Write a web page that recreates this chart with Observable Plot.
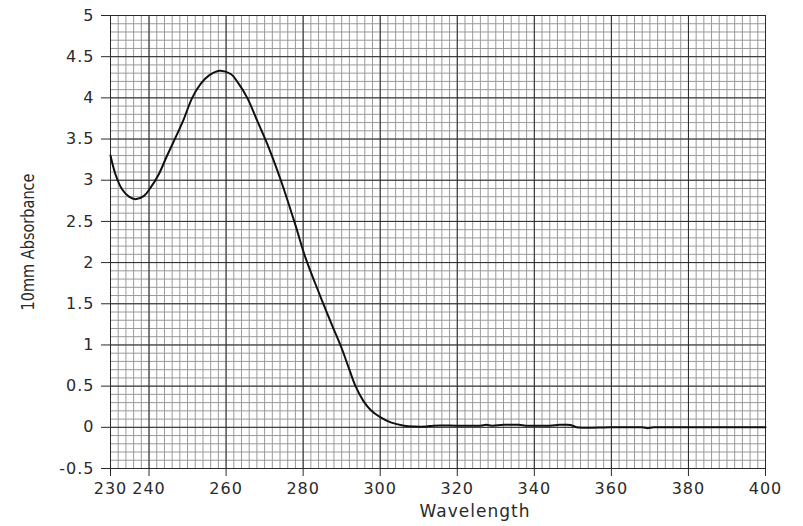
<!DOCTYPE html>
<html>
<head>
<meta charset="utf-8">
<script src="https://cdn.jsdelivr.net/npm/d3@7"></script>
<script src="https://cdn.jsdelivr.net/npm/@observablehq/plot@0.6"></script>
<style>
  html, body { margin: 0; padding: 0; background: #fff; }
  #chart svg text { letter-spacing: 1px; }
  #chart svg text.ylab { letter-spacing: 0; }
</style>
</head>
<body>
<div id="chart"></div>
<script>
// Wavelength (nm) and absorbance
const wavelength = [230, 231.3, 233, 234.8, 236.5, 238.7, 240.4, 242.5, 244.7, 246.9, 249, 251.2, 253.4, 255.5, 258.3, 261.2, 263.3, 265.5, 268.1, 270.6, 274.2, 277.9, 280.6, 283.2, 285.4, 287.6, 290.0, 292.0, 293.6, 295.5, 297.5, 300.1, 302.7, 306.2, 308.8, 312, 313.8, 320, 326, 327.5, 329, 332, 336, 337.8, 340, 344, 346.5, 348.5, 350, 351, 360, 368, 369.4, 371, 380, 390, 400];
const absorbance = [3.30, 3.07, 2.89, 2.80, 2.77, 2.81, 2.91, 3.07, 3.30, 3.52, 3.74, 4.00, 4.17, 4.27, 4.33, 4.29, 4.17, 4.00, 3.72, 3.45, 3.00, 2.47, 2.06, 1.74, 1.48, 1.23, 0.96, 0.70, 0.50, 0.33, 0.21, 0.12, 0.06, 0.02, 0.01, 0.01, 0.02, 0.02, 0.02, 0.03, 0.02, 0.03, 0.03, 0.02, 0.02, 0.02, 0.03, 0.03, 0.02, 0.00, 0.00, 0.00, -0.01, 0.00, 0.00, 0.00, 0.00];

// Axis ticks
const xTicks = [230, 240, 260, 280, 300, 320, 340, 360, 380, 400];
const yTicks = [-0.5, 0, 0.5, 1, 1.5, 2, 2.5, 3, 3.5, 4, 4.5, 5];
const xMinorStep = 2;
const yMinorStep = 0.1;
const xLabel = "Wavelength";
const yLabel = "10mm Absorbance";

const data = wavelength.map((w, i) => ({w, a: absorbance[i]}));
const xMinor = d3.range(230, 400.001, xMinorStep);
const yMinor = d3.range(-5, 50.001, yMinorStep * 10).map(v => Math.round(v) / 10);

const chart = Plot.plot({
  width: 803,
  height: 526,
  marginLeft: 110,
  marginRight: 38,
  marginTop: 15,
  marginBottom: 58,
  style: {fontFamily: "'DejaVu Sans', Verdana, sans-serif", fontSize: "16px", color: "#2a2a2a", background: "#fff"},
  x: {domain: [230, 400]},
  y: {domain: [-0.5, 5]},
  marks: [
    Plot.ruleX(xMinor, {stroke: "#9a9a9a", strokeWidth: 1}),
    Plot.ruleY(yMinor, {stroke: "#9a9a9a", strokeWidth: 1}),
    Plot.ruleX(xTicks, {stroke: "#2b2b2b", strokeWidth: 1}),
    Plot.ruleY(yTicks, {stroke: "#2b2b2b", strokeWidth: 1}),
    Plot.axisX({ticks: xTicks, tickSize: 8, tickPadding: 6, label: null, tickFormat: d => String(d), fontSize: 16}),
    Plot.axisY({ticks: yTicks, tickSize: 9, tickPadding: 7, label: null, tickFormat: d => String(d), fontSize: 16}),
    Plot.line(data, {x: "w", y: "a", curve: "catmull-rom", stroke: "#111", strokeWidth: 2}),
    Plot.text([xLabel], {frameAnchor: "bottom", dx: 37, dy: 48, lineAnchor: "bottom", fontSize: 17, fill: "#2a2a2a"}),
    Plot.text([yLabel], {frameAnchor: "left", textAnchor: "middle", dx: -82, rotate: -90, fontSize: 17, fill: "#2a2a2a", fontFamily: "'DejaVu Sans Condensed', 'Liberation Sans Narrow', sans-serif"})
  ]
});
document.getElementById("chart").appendChild(chart);
// make y label match reference length
d3.select(chart).selectAll("text").filter(function() { return this.textContent === yLabel; })
  .attr("class", "ylab").attr("textLength", 137).attr("lengthAdjust", "spacingAndGlyphs");
</script>
</body>
</html>
